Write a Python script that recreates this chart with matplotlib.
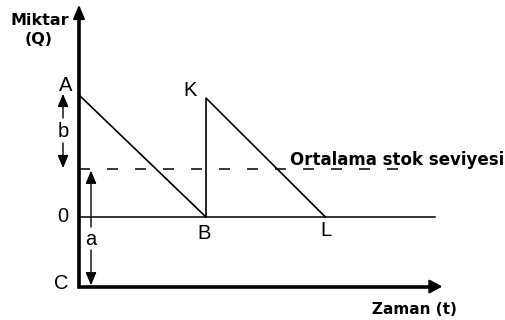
import matplotlib
matplotlib.use('Agg')
import matplotlib.pyplot as plt

# Estoque em dente de serra: A -> B, reposição em B (K), K -> L
saw_t = [0.0, 1.0, 1.0, 1.94]
saw_q = [1.0, 0.0, 0.975, 0.0]
saw_labels = ['A', 'B', 'K', 'L']
avg_q = 0.39           # ortalama stok seviyesi
c_q = -0.57            # nível C (onde passa o eixo do tempo)
t_axis_end = 2.86
q_axis_end = 1.74
zero_end = 2.80
avg_end = 2.64

y_title = ['Miktar', '(Q)']
x_title = 'Zaman (t)'
avg_title = 'Ortalama stok seviyesi'

# escala do desenho (pixels por unidade) e origem em pixels
PX_T, PX_Q = 127.0, 122.0
X0, Y0 = 79.0, 217.0
W, H = 505, 320
PT = 0.72  # 1 px em pontos (dpi 100)

LETTER = dict(family='Liberation Sans', fontsize=14.5, color='black')
BOLD = dict(family='DejaVu Sans', fontweight='bold', color='black')


def q_of(py):
    return (Y0 - py) / PX_Q


def label(s, x, y, dx, dy, **kw):
    # dx, dy em pixels (dy positivo = para baixo)
    ax.annotate(s, (x, y), xytext=(dx * PT, -dy * PT), textcoords='offset points',
                ha=kw.pop('ha', 'center'), va='baseline', **kw)


def arrow(x, y_tail, y_tip, lw=1.0, scale=13):
    ax.annotate('', xy=(x, y_tip), xytext=(x, y_tail),
                arrowprops=dict(arrowstyle='-|>,head_length=0.6,head_width=0.25',
                                lw=lw, color='black', shrinkA=0, shrinkB=0,
                                mutation_scale=scale))


fig = plt.figure(figsize=(W / 100, H / 100), dpi=100)
ax = fig.add_axes([0, 0, 1, 1])
ax.set_xlim(-X0 / PX_T, (W - X0) / PX_T)
ax.set_ylim(-(H - Y0) / PX_Q, Y0 / PX_Q)
ax.axis('off')

# eixos (linha grossa em L) + pontas de seta
ax.plot([0, 0, t_axis_end - 0.05], [q_axis_end - 0.05, c_q, c_q], color='black',
        lw=2.6, solid_joinstyle='miter', solid_capstyle='butt')
arrow(0, q_axis_end - 0.08, q_axis_end, lw=1.5, scale=14)
ax.annotate('', xy=(t_axis_end, c_q), xytext=(t_axis_end - 0.08, c_q),
            arrowprops=dict(arrowstyle='-|>,head_length=0.55,head_width=0.3',
                            lw=1.5, color='black', shrinkA=0, shrinkB=0,
                            mutation_scale=14))

# nível zero e estoque médio
ax.plot([0, zero_end], [0, 0], color='black', lw=1.1)
ax.plot([0, avg_end], [avg_q, avg_q], color='black', lw=1.1,
        dashes=(11 * PT / 1.1, 17 * PT / 1.1))

# dente de serra
ax.plot(saw_t, saw_q, color='black', lw=1.2)

# rótulos dos pontos
offsets = {'A': (-13, -4), 'B': (-2, 22), 'K': (-16, -2), 'L': (1, 19)}
for t, q, s in zip(saw_t, saw_q, saw_labels):
    dx, dy = offsets[s]
    label(s, t, q, dx, dy, **LETTER)
label('0', 0, 0, -16, 5, **LETTER)
label('C', 0, c_q, -18, 2, **LETTER)

# cota b (entre A e o estoque médio)
bx = -16 / PX_T
arrow(bx, q_of(118), saw_q[0] + 0.01)
arrow(bx, q_of(143), avg_q + 0.01)
label('b', bx, q_of(137), 0, 0, **LETTER)

# cota a (entre estoque médio e C)
axx = 12 / PX_T
arrow(axx, q_of(227), avg_q - 0.01)
arrow(axx, q_of(250), c_q + 0.01)
label('a', axx, q_of(245), 0, 0, **LETTER)

# títulos
label(avg_title, saw_t[1] + (290 - 206) / PX_T, avg_q, 0, -4, ha='left', fontsize=12, **BOLD)
label(y_title[0], 0, q_axis_end, -39, 20, fontsize=11.5, **BOLD)
label(y_title[1], 0, q_axis_end, -40, 39, fontsize=11.5, **BOLD)
label(x_title, t_axis_end, c_q, -28, 27, fontsize=11, **BOLD)

fig.savefig('out.png', dpi=100)
plt.close(fig)
